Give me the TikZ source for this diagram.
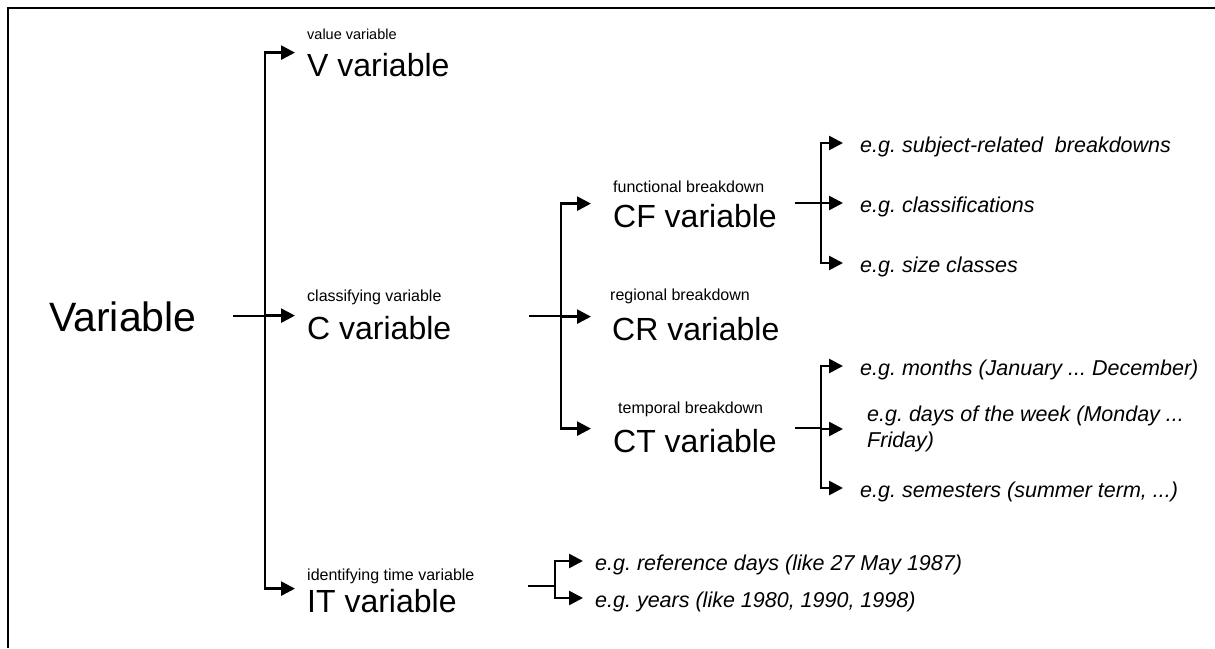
\documentclass[tikz,border=0pt]{standalone}
\usepackage{fontspec}
\setmainfont{Liberation Sans}
\usetikzlibrary{arrows.meta}
\frenchspacing

\begin{document}
\begin{tikzpicture}[x=1pt,y=-1pt,
  link/.style={line width=2.6pt},
  arr/.style={line width=2.6pt,-{Triangle[length=14pt,width=14pt]}},
  big/.style={anchor=base west,inner sep=0pt,font=\fontsize{32}{32}\selectfont},
  lab/.style={anchor=base west,inner sep=0pt,font=\fontsize{16}{16}\selectfont},
  eg/.style={anchor=base west,inner sep=0pt,font=\fontsize{21.5}{26}\selectfont\itshape}]
%\draw[help lines](0,0)grid[step=50](1215,648);
\useasboundingbox (0,0) rectangle (1215,648);
\draw[line width=2.8pt] (8,648)--(8,8)--(1215,8);

% left column
\node[anchor=base west,inner sep=0pt,font=\fontsize{41}{41}\selectfont] (var) at (49,331) {Variable};
\node[lab,font=\fontsize{14.5}{15}\selectfont] (vlab) at (307,39) {value variable};
\node[big] (v) at (307,76) {V variable};
\node[lab] (clab) at (307,301) {classifying variable};
\node[big] (c) at (307,339) {C variable};
\node[lab] (itlab) at (307,580) {identifying time variable};
\node[big] (it) at (307,612) {IT variable};

% middle column
\node[lab] (cflab) at (613,192) {functional breakdown};
\node[big] (cf) at (613,227) {CF variable};
\node[lab] (crlab) at (610,300) {regional breakdown};
\node[big] (cr) at (612,340) {CR variable};
\node[lab] (ctlab) at (618,413) {temporal breakdown};
\node[big] (ct) at (613,452) {CT variable};

% examples
\node[eg] (sub) at (860,152) {e.g. subject-related\ \ breakdowns};
\node[eg] (cls) at (860,212) {e.g. classifications};
\node[eg] (size) at (860,272) {e.g. size classes};
\node[eg] (mon) at (860,375) {e.g. months (January ... December)};
\node[eg,anchor=west,align=left] (days) at (867,429) {e.g. days of the week (Monday ...\\Friday)};
\node[eg] (sem) at (860,497) {e.g. semesters (summer term, ...)};
\node[eg] (ref) at (595,570) {e.g. reference days (like 27 May 1987)};
\node[eg] (yrs) at (595,607) {e.g. years (like 1980, 1990, 1998)};

% brackets
\coordinate (sA) at (233,316);
\coordinate (jA) at (265,316);
\draw[link] (sA)--(jA);
\draw[arr] (jA) |- ([xshift=-12pt]v.north west);
\draw[arr] (jA) |- ([xshift=-12pt]c.north west);
\draw[arr] (jA) |- ([xshift=-12pt]it.north west);

\coordinate (sC) at (529,316);
\coordinate (jC) at (561,316);
\draw[link] (sC)--(jC);
\draw[arr] (jC) |- ([xshift=-22pt]cf.north west);
\draw[arr] (jC) |- ([xshift=-21pt]cr.north west);
\draw[arr] (jC) |- ([xshift=-22pt]ct.north west);

\coordinate (sF) at (795,203);
\coordinate (jF) at (821,203);
\draw[link] (sF)--(jF);
\draw[arr] (jF) |- ([xshift=-17pt,yshift=9pt]sub.base west);
\draw[arr] (jF) |- ([xshift=-17pt,yshift=9pt]cls.base west);
\draw[arr] (jF) |- ([xshift=-17pt,yshift=9pt]size.base west);

\coordinate (sT) at (795,428);
\coordinate (jT) at (821,428);
\draw[link] (sT)--(jT);
\draw[arr] (jT) |- ([xshift=-17pt,yshift=9pt]mon.base west);
\draw[arr] (jT) |- ([xshift=-24pt]days.west);
\draw[arr] (jT) |- ([xshift=-17pt,yshift=9pt]sem.base west);

\coordinate (sI) at (528,586);
\coordinate (jI) at (555,586);
\draw[link] (sI)--(jI);
\draw[arr] (jI) |- ([xshift=-12pt,yshift=9pt]ref.base west);
\draw[arr] (jI) |- ([xshift=-12pt,yshift=9pt]yrs.base west);
\end{tikzpicture}
\end{document}
